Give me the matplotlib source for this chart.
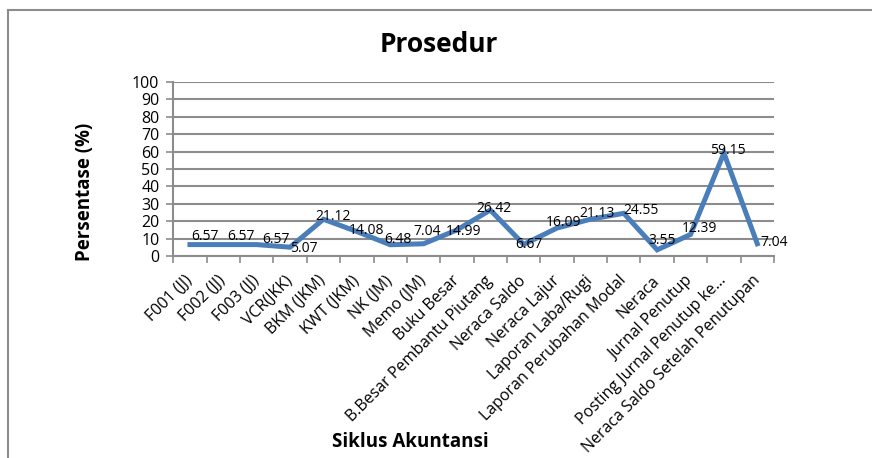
import matplotlib
matplotlib.use("Agg")
import matplotlib.pyplot as plt
from matplotlib.lines import Line2D

plt.rcParams['font.family'] = ['Open Sans', 'DejaVu Sans']

# data
categories = [
    "F001 (JJ)", "F002 (JJ)", "F003 (JJ)", "VCR(JKK)", "BKM (JKM)", "KWT (JKM)",
    "NK (JM)", "Memo (JM)", "Buku Besar", "B.Besar Pembantu Piutang",
    "Neraca Saldo", "Neraca Lajur", "Laporan Laba/Rugi", "Laporan Perubahan Modal",
    "Neraca", "Jurnal Penutup", "Posting Jurnal Penutup ke...",
    "Neraca Saldo Setelah Penutupan",
]
persen = [6.57, 6.57, 6.57, 5.07, 21.12, 14.08, 6.48, 7.04, 14.99, 26.42,
          6.67, 16.09, 21.13, 24.55, 3.55, 12.39, 59.15, 7.04]
y_ticks = list(range(0, 101, 10))

# label nudges (points) so labels sit like the Excel original
label_dx = [1, 3, 4, 0, -6, -6, -4, -7, -8, -10, -6, -8, -8, 0, -6, -6, -10, 2]
label_dy = [6, 6, 4, -1, 2, 1, 4, 9, -1, 1, 0, 4, 4, 2, 7, 4, 2, 1]

GRID = '#8c8c8c'
LINE = '#4a7ebb'

fig = plt.figure(figsize=(8.72, 4.58), dpi=100)
ax = fig.add_axes([0.1987, 0.441, 0.6889, 0.380])

x = list(range(len(categories)))
ax.plot(x, persen, color=LINE, linewidth=3.6, solid_joinstyle='miter', zorder=3)

for i, v in enumerate(persen):
    ax.annotate(f"{v:.2f}", (i, v), xytext=(label_dx[i], label_dy[i]),
                textcoords='offset points', ha='left', va='center',
                fontsize=10, color='black', zorder=4)

ax.set_xlim(-0.5, len(categories) - 0.5)
ax.set_ylim(0, 100)
ax.set_yticks(y_ticks)
ax.tick_params(axis='y', labelsize=11.5, length=5, color=GRID, width=1.2, pad=5)
ax.yaxis.grid(True, color=GRID, linewidth=1.5)
ax.set_axisbelow(True)

# category boundary ticks on x axis
ax.set_xticks([i - 0.5 for i in range(len(categories) + 1)])
ax.set_xticklabels([])
ax.set_xticks(x, minor=True)
ax.set_xticklabels(categories, minor=True, rotation=45, ha='right', va='center',
                   rotation_mode='anchor', fontsize=11.5)
ax.tick_params(axis='x', which='major', length=5, color=GRID, width=1.2)
ax.tick_params(axis='x', which='minor', length=0, pad=16)

for s in ['top', 'right']:
    ax.spines[s].set_visible(False)
for s in ['left', 'bottom']:
    ax.spines[s].set_color(GRID)
    ax.spines[s].set_linewidth(1.5)

fig.text(0.503, 0.902, "Prosedur", ha='center', va='center', fontsize=19, fontweight='bold')
fig.text(0.098, 0.582, "Persentase (%)", ha='center', va='center', rotation=90,
         fontsize=13.5, fontweight='bold')
fig.text(0.470, 0.034, "Siklus Akuntansi", ha='center', va='center', fontsize=13.5,
         fontweight='bold')

# chart frame (cut off at right and bottom in the original)
fig.add_artist(Line2D([0.0092, 0.0092], [0, 0.978], color='#8c8c8c', linewidth=1.5,
                      transform=fig.transFigure))
fig.add_artist(Line2D([0.0092, 1.0], [0.978, 0.978], color='#8c8c8c', linewidth=1.5,
                      transform=fig.transFigure))

fig.savefig("out.png", dpi=100)
